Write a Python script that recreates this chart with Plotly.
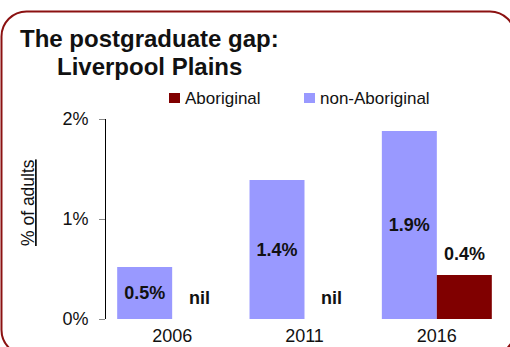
import plotly.graph_objects as go

# Census years and share of adults holding a postgraduate degree (%)
years = ["2006", "2011", "2016"]
non_aboriginal = [0.52, 1.39, 1.88]
aboriginal = [0.0, 0.0, 0.44]

series_names = ["Aboriginal", "non-Aboriginal"]
y_ticks = [0, 1, 2]
y_tick_labels = ["0%", "1%", "2%"]

COL_ABO = "#800000"
COL_NON = "#9999FF"
FONT = "Liberation Sans, Arial, sans-serif"
INK = "#111111"

W, H = 510, 347
M_L, M_R, M_T, M_B = 106, 7, 119, 28
PW, PH = W - M_L - M_R, H - M_T - M_B
BARGAP = 0.169


def px(x):
    return (x - M_L) / PW


def py(y):
    return (H - M_B - y) / PH


fig = go.Figure()

fig.add_trace(go.Bar(
    x=years, y=non_aboriginal, name=series_names[1],
    marker=dict(color=COL_NON, line=dict(width=0)),
    texttemplate="<b>%{y:.1f}%</b>", textposition="inside",
    insidetextanchor="middle", textangle=0,
    insidetextfont=dict(family=FONT, size=18, color=INK),
    showlegend=False,
))
fig.add_trace(go.Bar(
    x=years, y=aboriginal, name=series_names[0],
    marker=dict(color=COL_ABO, line=dict(width=0)),
    showlegend=False,
))

# value labels above the Aboriginal bars ("nil" where there is none)
offset = (1 - BARGAP) / 4
for i, v in enumerate(aboriginal):
    label = "nil" if v == 0 else f"{v:.1f}%"
    fig.add_annotation(
        x=i + offset, y=v, xref="x", yref="y", text=f"<b>{label}</b>",
        showarrow=False, yshift=21, yanchor="middle", xanchor="center",
        font=dict(family=FONT, size=18, color=INK),
    )

# title, two lines
fig.add_annotation(x=px(18), y=py(23), xref="paper", yref="paper",
                   text="<b>The postgraduate gap:</b>", showarrow=False,
                   xanchor="left", yanchor="top",
                   font=dict(family=FONT, size=24, color=INK))
fig.add_annotation(x=px(55), y=py(51), xref="paper", yref="paper",
                   text="<b>Liverpool Plains</b>", showarrow=False,
                   xanchor="left", yanchor="top",
                   font=dict(family=FONT, size=24, color=INK))

# legend row
legend_items = [(series_names[0], COL_ABO, 169), (series_names[1], COL_NON, 304)]
for name, col, x0 in legend_items:
    fig.add_shape(type="rect", xref="paper", yref="paper",
                  x0=px(x0), x1=px(x0 + 11), y0=py(103), y1=py(93),
                  fillcolor=col, line=dict(width=0))
    fig.add_annotation(x=px(x0 + 14), y=py(98), xref="paper", yref="paper",
                       text=name, showarrow=False, xanchor="left",
                       yanchor="middle",
                       font=dict(family=FONT, size=17, color=INK))

# y-axis title, underlined
fig.add_annotation(x=px(28), y=py(203), xref="paper", yref="paper",
                   text="<span style='text-decoration:underline'>% of adults</span>",
                   showarrow=False, textangle=-90, xanchor="center",
                   yanchor="middle",
                   font=dict(family=FONT, size=17.5, color=INK))

# rounded frame
def rounded_path(x0, y0, x1, y1, r):
    k = 0.5523 * r
    pts = []
    pts.append(f"M {px(x0 + r)},{py(y0)}")
    pts.append(f"L {px(x1 - r)},{py(y0)}")
    pts.append(f"C {px(x1 - r + k)},{py(y0)} {px(x1)},{py(y0 + r - k)} {px(x1)},{py(y0 + r)}")
    pts.append(f"L {px(x1)},{py(y1 - r)}")
    pts.append(f"C {px(x1)},{py(y1 - r + k)} {px(x1 - r + k)},{py(y1)} {px(x1 - r)},{py(y1)}")
    pts.append(f"L {px(x0 + r)},{py(y1)}")
    pts.append(f"C {px(x0 + r - k)},{py(y1)} {px(x0)},{py(y1 - r + k)} {px(x0)},{py(y1 - r)}")
    pts.append(f"L {px(x0)},{py(y0 + r)}")
    pts.append(f"C {px(x0)},{py(y0 + r - k)} {px(x0 + r - k)},{py(y0)} {px(x0 + r)},{py(y0)}")
    pts.append("Z")
    return " ".join(pts)


fig.add_shape(type="path", xref="paper", yref="paper",
              path=rounded_path(1.5, 11.5, 515, 355, 25),
              line=dict(color="#8B1111", width=2), layer="above")

fig.update_layout(
    width=W, height=H,
    margin=dict(l=M_L, r=M_R, t=M_T, b=M_B, pad=0),
    paper_bgcolor="white", plot_bgcolor="white",
    barmode="group", bargap=BARGAP, bargroupgap=0,
    font=dict(family=FONT, color=INK),
    showlegend=False,
    xaxis=dict(
        type="category", showline=False, showgrid=False, ticks="",
        tickfont=dict(family=FONT, size=18, color=INK),
        ticklabelstandoff=4, automargin=False,
    ),
    yaxis=dict(
        range=[0, 2], tickvals=y_ticks, ticktext=y_tick_labels,
        showline=True, linecolor="black", linewidth=1,
        ticks="outside", ticklen=6, tickcolor="#888888",
        showgrid=False, zeroline=False,
        tickfont=dict(family=FONT, size=18, color=INK),
        ticklabelstandoff=7, automargin=False,
    ),
)

fig.write_html("out.html")
